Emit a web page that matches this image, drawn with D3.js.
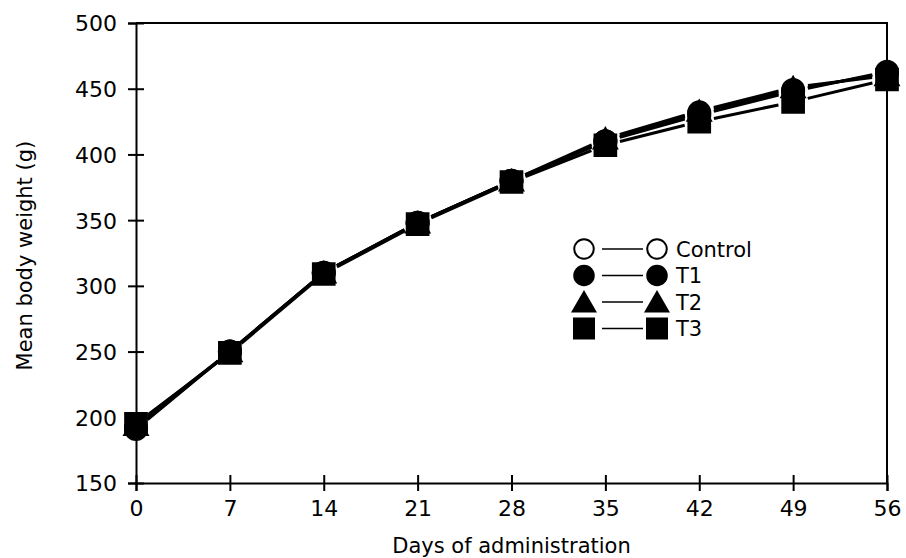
<!DOCTYPE html>
<html>
<head>
<meta charset="utf-8">
<script src="https://cdn.jsdelivr.net/npm/d3@7"></script>
<style>
  body { margin: 0; background: #fff; }
  text { font-family: "DejaVu Sans", sans-serif; fill: #000; }
</style>
</head>
<body>
<script>
// data
var days = [0, 7, 14, 21, 28, 35, 42, 49, 56];
var control = [192, 250, 310, 348, 380, 410, 430, 448, 463];
var t1 = [191, 250, 310, 348, 380, 410, 432, 449, 462];
var t2 = [194, 250, 310, 348, 380, 412, 433, 451, 460];
var t3 = [195, 249, 309, 347, 379, 407, 425, 440, 457];
var yTicks = [150, 200, 250, 300, 350, 400, 450, 500];

var series = [
  { name: "Control", values: control, shape: "circle", fill: "#fff" },
  { name: "T1", values: t1, shape: "circle", fill: "#000" },
  { name: "T2", values: t2, shape: "triangle", fill: "#000" },
  { name: "T3", values: t3, shape: "square", fill: "#000" }
];

var svg = d3.select("body").append("svg")
  .attr("width", 906)
  .attr("height", 558);

var x = d3.scaleLinear().domain([0, 56]).range([136, 887]);
var y = d3.scaleLinear().domain([150, 500]).range([483, 23]);

// marker shapes
function symbolFor(shape, size) {
  var t = shape == "circle" ? d3.symbolCircle : shape == "triangle" ? d3.symbolTriangle : d3.symbolSquare;
  return d3.symbol().type(t).size(size)();
}
var sizes = { circle: 380, triangle: 240, square: 470 };

// frame (top and right)
svg.append("path")
  .attr("d", "M" + x(0) + "," + y(500) + "H" + x(56) + "V" + y(150))
  .attr("fill", "none")
  .attr("stroke", "#000")
  .attr("stroke-width", 2);

// axes with crossing ticks
var yAxis = svg.append("g")
  .attr("transform", "translate(" + x(0) + ",0)")
  .call(d3.axisLeft(y).tickValues(yTicks).tickSize(8).tickPadding(11));
yAxis.selectAll(".tick line").attr("x2", 8).attr("x1", -8);

var xAxis = svg.append("g")
  .attr("transform", "translate(0," + y(150) + ")")
  .call(d3.axisBottom(x).tickValues(days).tickSize(8).tickPadding(7));
xAxis.selectAll(".tick line").attr("y1", -8).attr("y2", 8);

svg.selectAll(".domain").attr("stroke-width", 2);
svg.selectAll(".tick line").attr("stroke-width", 2);
svg.selectAll(".tick text")
  .style("font-family", "DejaVu Sans, sans-serif")
  .style("font-size", "22px")
  .attr("fill", "#000");
xAxis.selectAll(".tick text").attr("dy", "0.8em");
yAxis.selectAll(".tick text").attr("dy", "0.36em");

// lines with gaps around markers
var gap = 15;
series.forEach(function(s) {
  var pts = days.map(function(d, i) { return [x(d), y(s.values[i])]; });
  for (var i = 0; i < pts.length - 1; i++) {
    var a = pts[i], b = pts[i + 1];
    var dx = b[0] - a[0], dy = b[1] - a[1];
    var len = Math.sqrt(dx * dx + dy * dy);
    var ux = dx / len, uy = dy / len;
    svg.append("line")
      .attr("x1", a[0] + ux * gap).attr("y1", a[1] + uy * gap)
      .attr("x2", b[0] - ux * gap).attr("y2", b[1] - uy * gap)
      .attr("stroke", "#000")
      .attr("stroke-width", 3);
  }
});

// markers
series.forEach(function(s) {
  svg.selectAll(null)
    .data(days)
    .enter()
    .append("path")
    .attr("d", symbolFor(s.shape, sizes[s.shape]))
    .attr("transform", function(d, i) {
      var off = s.shape == "triangle" ? 3 : 0;
      return "translate(" + x(d) + "," + (y(s.values[i]) + off) + ")";
    })
    .attr("fill", s.fill)
    .attr("stroke", "#000")
    .attr("stroke-width", 2);
});

// legend
var legend = svg.append("g").attr("transform", "translate(584,249)");
series.forEach(function(s, i) {
  var g = legend.append("g").attr("transform", "translate(0," + (i * 26.5) + ")");
  var ls = { circle: 300, triangle: 220, square: 400 };
  var off = s.shape == "triangle" ? 3 : 0;
  [0, 73].forEach(function(px) {
    g.append("path")
      .attr("d", symbolFor(s.shape, ls[s.shape]))
      .attr("transform", "translate(" + px + "," + off + ")")
      .attr("fill", s.fill)
      .attr("stroke", "#000")
      .attr("stroke-width", 2);
  });
  g.append("line")
    .attr("x1", 18).attr("x2", 59)
    .attr("stroke", "#000")
    .attr("stroke-width", 1.5);
  g.append("text")
    .attr("x", 92)
    .attr("dy", "0.36em")
    .style("font-size", "21px")
    .text(s.name);
});

// axis titles
svg.append("text")
  .attr("x", x(28))
  .attr("y", 553)
  .attr("text-anchor", "middle")
  .style("font-size", "21px")
  .text("Days of administration");

svg.append("text")
  .attr("transform", "translate(32," + y(323) + ") rotate(-90)")
  .attr("text-anchor", "middle")
  .style("font-size", "21px")
  .text("Mean body weight (g)");
</script>
</body>
</html>
